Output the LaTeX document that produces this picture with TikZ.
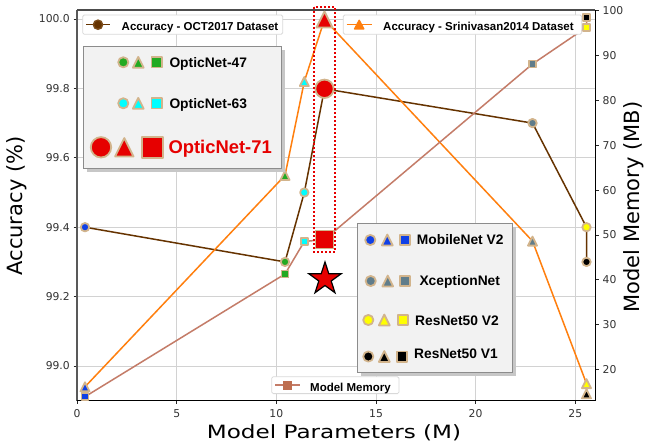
\documentclass[tikz,border=0pt]{standalone}
\usepackage{fontspec}
\setmainfont{DejaVu Sans}
\newfontfamily\legfont{Liberation Sans}
\usetikzlibrary{shapes.geometric}
\definecolor{mtan}{RGB}{210,180,140}
\definecolor{cblue}{RGB}{16,64,230}
\definecolor{cgreen}{RGB}{34,170,34}
\definecolor{ccyan}{RGB}{0,255,255}
\definecolor{cred}{RGB}{230,0,0}
\definecolor{cslate}{RGB}{96,125,139}
\definecolor{cyellow}{RGB}{255,255,0}
\definecolor{cblack}{RGB}{0,0,0}
\definecolor{octc}{RGB}{102,51,0}
\definecolor{orng}{RGB}{255,127,14}
\definecolor{memc}{RGB}{196,124,104}
\definecolor{memm}{RGB}{190,110,80}
\definecolor{gridc}{RGB}{210,210,210}
\definecolor{legbg}{RGB}{242,242,242}
\definecolor{ticklab}{RGB}{51,51,51}
\tikzset{
 mk/.style={draw=mtan,line width=1.8pt,line join=round},
 tlab/.style={font=\fontsize{10.8}{12}\selectfont,text=ticklab,inner sep=0pt},
 tickln/.style={draw=black!85,line width=0.9pt},
 legframe/.style={draw=black!15,fill=white,rounded corners=1.5pt,line width=0.8pt},
 bigframe/.style={draw=black!45,fill=legbg,line width=0.9pt},
 shadowbox/.style={fill=black!22},
 legS/.style={font=\legfont\bfseries\fontsize{11.5}{13}\selectfont,inner sep=0pt,anchor=base west},
 legM/.style={font=\legfont\bfseries\fontsize{13.8}{16}\selectfont,inner sep=0pt,anchor=base west},
 legL/.style={font=\legfont\bfseries\fontsize{18.4}{21}\selectfont,inner sep=0pt,anchor=base west,text=cred},
 axlab/.style={font=\fontsize{21}{24}\selectfont,inner sep=0pt},
}
\newcommand{\mkC}[3]{\draw[mk,fill=#3] (#1) circle[radius=#2pt];}
\newcommand{\mkT}[3]{\draw[mk,fill=#3,shift={(#1)}] (0,-#2) -- (#2,#2) -- (-#2,#2) -- cycle;}
\newcommand{\mkS}[3]{\draw[mk,fill=#3,shift={(#1)}] (-#2,-#2) rectangle (#2,#2);}
\begin{document}
\begin{tikzpicture}[x=1pt,y=-1pt]
\useasboundingbox[fill=white] (0,0) rectangle (647,447);
% grid
\foreach \gx in {176.7,276.3,376,475.6,575.3} \draw[gridc,line width=0.9pt] (\gx,10) -- (\gx,400.6);
\foreach \gy in {19,88.4,157.8,227.2,296.6,366} \draw[gridc,line width=0.9pt] (77,\gy) -- (595,\gy);
% ticks and tick labels
\foreach \gy/\t [count=\i] in {19/100.0,88.4/99.8,157.8/99.6,227.2/99.4,296.6/99.2,366/99.0}{
  \draw[tickln] (73.5,\gy) -- (77,\gy);
  \node[tlab,anchor=east] (yl\i) at (70,\gy) {\t};}
\foreach \gx/\t [count=\i] in {77/0,176.7/5,276.3/10,376/15,475.6/20,575.3/25}{
  \draw[tickln] (\gx,400.6) -- (\gx,404.1);
  \node[tlab] (xl\i) at (\gx,413.5) {\t};}
\foreach \m [count=\i] in {100,90,80,70,60,50,40,30,20}{
  \pgfmathsetmacro{\yy}{10.7+(100-\m)*4.485}
  \draw[tickln] (595,\yy) -- (598.5,\yy);
  \node[tlab,anchor=west] (yr\i) at (602.5,\yy) {\m};}
% spines
\draw[black!65,line width=1.8pt] (77,10) -- (77,400.6);
\draw[black!70,line width=1.2pt] (77,10) -- (595,10);
\draw[black,line width=1pt] (77,400.6) -- (595,400.6) -- (595,10);
% axis labels
\node[axlab,rotate=90] (ylab) at (17,206) {Accuracy (\%)};
\node[axlab,rotate=90] (yrlab) at (634,207) {Model Memory (MB)};
\node[axlab] (xlab) at (334,433) {\scalebox{1.1}[0.87]{Model Parameters (M)}};
% data coordinates
\coordinate (a1) at (85,227.2);
\coordinate (a2) at (285,261.9);
\coordinate (a3) at (304.3,192.5);
\coordinate (a4) at (324.5,88.8);
\coordinate (a5) at (532.5,123.1);
\coordinate (a6) at (586.5,227.2);
\coordinate (a7) at (586.5,261.9);
\coordinate (s1) at (85,386.8);
\coordinate (s2) at (285,175.4);
\coordinate (s3) at (304.3,81.5);
\coordinate (s4) at (324.5,19.5);
\coordinate (s5) at (532.5,241.1);
\coordinate (s6) at (586.5,383.6);
\coordinate (s7) at (586.5,393.8);
\coordinate (m1) at (85,396.7);
\coordinate (m2) at (285,274);
\coordinate (m3) at (304.3,241.5);
\coordinate (m4) at (324.5,239.5);
\coordinate (m5) at (532.5,64);
\coordinate (m6) at (586.5,27.3);
\coordinate (m7) at (586.5,17.5);
% OCT2017 series
\draw[octc,line width=1.5pt,line join=round] (a1) -- (a2) -- (a3) -- (a4) -- (a5) -- (a6) -- (a7);
\mkC{a1}{4.2}{cblue}
\mkC{a2}{4.2}{cgreen}
\mkC{a3}{4.2}{ccyan}
\mkC{a4}{9.2}{cred}
\mkC{a5}{4.2}{cslate}
\mkC{a6}{4.2}{cyellow}
\mkC{a7}{4.2}{cblack}
% Srinivasan2014 series
\draw[orng,line width=1.5pt,line join=round] (s1) -- (s2) -- (s3) -- (s4) -- (s5) -- (s6) -- (s7);
\mkT{s1}{4.5}{cblue}
\mkT{s2}{4.5}{cgreen}
\mkT{s3}{4.5}{ccyan}
\mkT{s4}{8}{cred}
\mkT{s5}{4.5}{cslate}
\mkT{s6}{4.5}{cyellow}
\mkT{s7}{4.5}{cblack}
% Model memory series
\draw[memc,line width=1.5pt,line join=round] (m1) -- (m2) -- (m3) -- (m4) -- (m5) -- (m6) -- (m7);
\mkS{m1}{3.5}{cblue}
\mkS{m2}{3.5}{cgreen}
\mkS{m3}{3.5}{ccyan}
\mkS{m4}{9}{cred}
\mkS{m5}{3.5}{cslate}
\mkS{m6}{3.5}{cyellow}
\mkS{m7}{3.5}{cblack}
% highlight box and star
\draw[cred,line width=2pt,dash pattern=on 2pt off 2pt] (314,7) rectangle (335,252);
\node[star,star points=5,star point ratio=2.618,minimum size=34pt,inner sep=0pt,fill=cred,draw=black,line width=1.2pt] (star) at (325,279) {};
% legend: OCT2017
\draw[legframe] (82.7,15) rectangle (282.7,34.3);
\coordinate (l1a) at (86,24.7);
\coordinate (l1b) at (110,24.7);
\coordinate (l1m) at (98,24.7);
\draw[octc,line width=1.5pt] (l1a) -- (l1b);
\draw[octc!80!mtan,fill=octc,line width=1.4pt] (l1m) circle[radius=4.6pt];
\node[legS] (l1t) at (121.5,30) {Accuracy - OCT2017 Dataset};
% legend: Srinivasan2014
\draw[legframe] (343.3,15) rectangle (581.7,34.3);
\coordinate (l2a) at (346.7,24.7);
\coordinate (l2b) at (371.7,24.7);
\coordinate (l2m) at (359.2,24.7);
\draw[orng,line width=1.5pt] (l2a) -- (l2b);
\draw[orng,fill=orng,line width=1.4pt,line join=round,shift={(l2m)}] (0,-4.4) -- (4.6,4.2) -- (-4.6,4.2) -- cycle;
\node[legS] (l2t) at (383,30) {Accuracy - Srinivasan2014 Dataset};
% legend: model memory
\draw[legframe] (271.7,376.7) rectangle (399,393.6);
\coordinate (l3a) at (275,385.2);
\coordinate (l3b) at (300,385.2);
\coordinate (l3m) at (287.5,385.2);
\draw[memc,line width=1.5pt] (l3a) -- (l3b);
\draw[memm,fill=memm,line width=1.2pt,shift={(l3m)}] (-4,-4) rectangle (4,4);
\node[legS] (l3t) at (310,391.5) {Model Memory};
% legend: OpticNet
\fill[shadowbox] (86.8,50.2) rectangle (284.5,171.8);
\draw[bigframe] (83.3,46.7) rectangle (281,168.3);
\coordinate (o1c) at (123.3,62.3);
\coordinate (o1t) at (138.3,62.3);
\coordinate (o1s) at (156.5,62.3);
\mkC{o1c}{5.1}{cgreen}
\mkT{o1t}{5.4}{cgreen}
\mkS{o1s}{5.1}{cgreen}
\node[legM] (o1n) at (169.3,67.4) {OpticNet-47};
\coordinate (o2c) at (123.3,103.3);
\coordinate (o2t) at (138.3,103.3);
\coordinate (o2s) at (156.5,103.3);
\mkC{o2c}{5.1}{ccyan}
\mkT{o2t}{5.4}{ccyan}
\mkS{o2s}{5.1}{ccyan}
\node[legM] (o2n) at (169.3,108.4) {OpticNet-63};
\coordinate (o3c) at (101,147.3);
\coordinate (o3t) at (124.3,147.3);
\coordinate (o3s) at (152.7,147.3);
\mkC{o3c}{10.2}{cred}
\mkT{o3t}{9.2}{cred}
\mkS{o3s}{10.4}{cred}
\node[legL] (o3n) at (168.3,153.4) {OpticNet-71};
% legend: networks
\fill[shadowbox] (360.8,226.8) rectangle (515.8,375.8);
\draw[bigframe] (357.3,223.3) rectangle (512.3,372.3);
\coordinate (n1c) at (370.3,240);
\coordinate (n1t) at (387.3,240);
\coordinate (n1s) at (405,240);
\mkC{n1c}{5.1}{cblue}
\mkT{n1t}{5.4}{cblue}
\mkS{n1s}{5.1}{cblue}
\node[legM] (n1n) at (416.7,244.2) {MobileNet V2};
\coordinate (n2c) at (370.7,281);
\coordinate (n2t) at (387.7,281);
\coordinate (n2s) at (405,281);
\mkC{n2c}{5.1}{cslate}
\mkT{n2t}{5.4}{cslate}
\mkS{n2s}{5.1}{cslate}
\node[legM] (n2n) at (419.3,285.8) {XceptionNet};
\coordinate (n3c) at (368.3,320);
\coordinate (n3t) at (384.3,320);
\coordinate (n3s) at (402.7,320);
\mkC{n3c}{5.1}{cyellow}
\mkT{n3t}{5.4}{cyellow}
\mkS{n3s}{5.1}{cyellow}
\node[legM] (n3n) at (415,325.2) {ResNet50 V2};
\coordinate (n4c) at (368.3,356.5);
\coordinate (n4t) at (384.3,356.5);
\coordinate (n4s) at (401.7,356.5);
\mkC{n4c}{5.1}{cblack}
\mkT{n4t}{5.4}{cblack}
\mkS{n4s}{5.1}{cblack}
\node[legM] (n4n) at (414,358.5) {ResNet50 V1};
\end{tikzpicture}
\end{document}
